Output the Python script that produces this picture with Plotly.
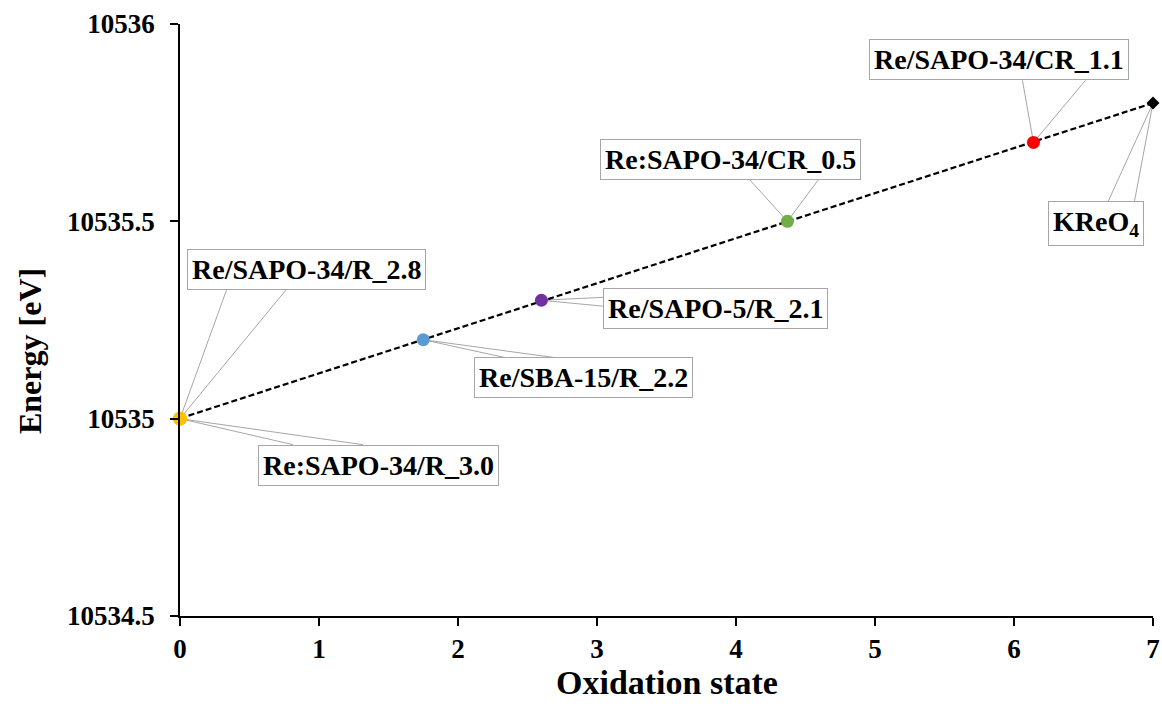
import numpy as np
import plotly.graph_objects as go

# Re L3-edge energy vs. rhenium oxidation state
labels = [
    "Re/SAPO-34/R_2.8",
    "Re:SAPO-34/R_3.0",
    "Re/SBA-15/R_2.2",
    "Re/SAPO-5/R_2.1",
    "Re:SAPO-34/CR_0.5",
    "Re/SAPO-34/CR_1.1",
    "KReO<sub>4</sub>",
]
oxidation_state = [0.0, 0.0, 1.75, 2.6, 4.37, 6.14, 7.0]
energy_ev = [10535.0, 10535.0, 10535.2, 10535.3, 10535.5, 10535.7, 10535.8]
marker_colors = ["#FFC000", "#FFC000", "#5B9BD5", "#7030A0", "#70AD47", "#FF0000", "#000000"]
marker_symbols = ["circle", "circle", "circle", "circle", "circle", "circle", "diamond"]
marker_sizes = [14, 14, 13, 13, 13, 13, 10]

x_tick_vals = [0, 1, 2, 3, 4, 5, 6, 7]
x_tick_labels = ["0", "1", "2", "3", "4", "5", "6", "7"]
y_tick_vals = [10534.5, 10535.0, 10535.5, 10536.0]
y_tick_labels = ["10534.5", "10535", "10535.5", "10536"]

# Callout layout (pixels, screen orientation: +dx right, +dy down):
# box centre offset and the two wedge base points, relative to the point.
box_offsets = [(126, -149), (198, 47), (160, 38), (174, 8), (-57, -62), (-34, -83), (-57, 121)]
wedge_offsets = [
    ((47, -130), (107, -130)),
    ((113, 26), (183, 26)),
    ((87, 19), (140, 19)),
    ((63, -3), (63, 6)),
    ((-39, -43), (32, -43)),
    ((-11, -62), (52, -62)),
    ((-46, 101), (-19, 101)),
]

FONT = "Times New Roman, Liberation Serif, serif"

fig = go.Figure()

# Linear trend through all samples
slope, intercept = np.polyfit(oxidation_state, energy_ev, 1)
trend_x = np.array([min(oxidation_state), max(oxidation_state)])
fig.add_trace(go.Scatter(
    x=trend_x, y=slope * trend_x + intercept, mode="lines",
    line=dict(color="black", width=2.2, dash="6px,3px"),
    hoverinfo="skip", showlegend=False, cliponaxis=False,
))

# Callout wedges and labels
shapes = []
annotations = []
for xv, yv, text, (bx, by), ((ax0, ay0), (ax1, ay1)) in zip(
        oxidation_state, energy_ev, labels, box_offsets, wedge_offsets):
    shapes.append(dict(
        type="path", xref="x", yref="y",
        xsizemode="pixel", ysizemode="pixel", xanchor=xv, yanchor=yv,
        path=f"M {ax0},{-ay0} L 0,0 L {ax1},{-ay1}",
        line=dict(color="#A6A6A6", width=1), fillcolor="rgba(0,0,0,0)",
        layer="below",
    ))
    annotations.append(dict(
        x=xv, y=yv, xref="x", yref="y", text=text, showarrow=False,
        xshift=bx, yshift=-by,
        font=dict(family=FONT, size=28, color="black", weight="bold"),
        bgcolor="white", bordercolor="#A6A6A6", borderwidth=1, borderpad=4,
    ))

fig.add_trace(go.Scatter(
    x=oxidation_state, y=energy_ev, mode="markers",
    marker=dict(color=marker_colors, symbol=marker_symbols, size=marker_sizes,
                opacity=1, line=dict(width=0)),
    showlegend=False, cliponaxis=False,
))

# Axis titles
annotations.append(dict(
    text="Oxidation state", xref="paper", yref="paper", x=0.5, y=0,
    yanchor="middle", yshift=-66, showarrow=False,
    font=dict(family=FONT, size=34, color="black", weight="bold"),
))
annotations.append(dict(
    text="Energy [eV]", xref="paper", yref="paper", x=0, y=0.4476,
    xanchor="center", yanchor="middle", xshift=-150, textangle=-90, showarrow=False,
    font=dict(family=FONT, size=32, color="black", weight="bold"),
))

axis_font = dict(family=FONT, size=27, color="black", weight="bold")
fig.update_layout(
    width=1162, height=711,
    margin=dict(l=180, r=9, t=24, b=95),
    paper_bgcolor="white", plot_bgcolor="white",
    shapes=shapes, annotations=annotations,
    xaxis=dict(
        range=[0, 7], tickvals=x_tick_vals, ticktext=x_tick_labels, automargin=False,
        showgrid=False, zeroline=False, showline=True, linecolor="black", linewidth=1.5,
        ticks="outside", ticklen=8, tickcolor="black", tickwidth=1.5,
        tickfont=axis_font, ticklabelstandoff=0,
    ),
    yaxis=dict(
        range=[10534.5, 10536], tickvals=y_tick_vals, ticktext=y_tick_labels, automargin=False,
        showgrid=False, zeroline=False, showline=True, linecolor="black", linewidth=1.5,
        ticks="outside", ticklen=8, tickcolor="black", tickwidth=1.5,
        tickfont=axis_font, ticklabelstandoff=10,
    ),
)

fig.write_html("out.html")
